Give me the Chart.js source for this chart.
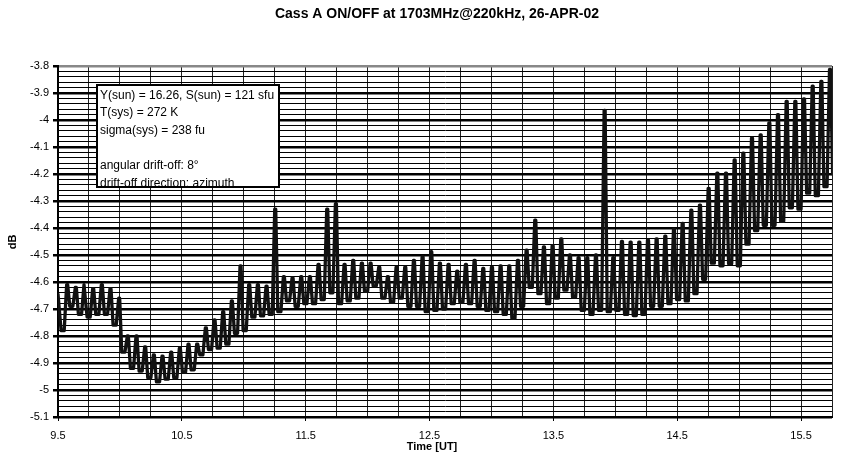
<!DOCTYPE html>
<html>
<head>
<meta charset="utf-8">
<script src="https://cdn.jsdelivr.net/npm/chart.js@4/dist/chart.umd.min.js"></script>
<style>
  html, body { margin: 0; padding: 0; background: #fff; }
  #wrap { width: 854px; height: 469px; }
</style>
</head>
<body>
<div id="wrap"><canvas id="cass_chart" width="854" height="469"></canvas></div>
<script>
// readings of the ON/OFF cycles, one high (ON) and one low (OFF) per cycle, in dB
const start_time = 9.5      // UT hours, first sample
const cycle_length = 0.07   // hours per ON/OFF cycle
// where inside a cycle the ON and OFF readings sit (hours after the cycle start)
const on_times = [0, 0.008]
const off_times = [0.025, 0.05]

const on_values = [
  -4.645, -4.61, -4.62, -4.61, -4.625, -4.61, -4.625, -4.66,
  -4.80, -4.80, -4.84, -4.87, -4.875, -4.86, -4.845, -4.83, -4.83,
  -4.77, -4.74, -4.71, -4.67, -4.54, -4.61, -4.61, -4.615, -4.33,
  -4.58, -4.585, -4.58, -4.58, -4.535, -4.33, -4.31, -4.535, -4.52,
  -4.53, -4.53, -4.545, -4.58, -4.545, -4.545, -4.52, -4.507, -4.488,
  -4.53, -4.535, -4.56, -4.535, -4.52, -4.55, -4.545, -4.54, -4.54,
  -4.52, -4.482, -4.371, -4.47, -4.465, -4.44, -4.50, -4.51, -4.51,
  -4.50, -3.964, -4.51, -4.45, -4.452, -4.452, -4.445, -4.44, -4.43,
  -4.405, -4.383, -4.334, -4.315, -4.253, -4.197, -4.197, -4.148, -4.123,
  -4.067, -4.055, -4.011, -3.98, -3.931, -3.931, -3.922, -3.875, -3.857, -3.813
]

const off_values = [
  -4.78, -4.69, -4.72, -4.73, -4.72, -4.72, -4.76, -4.86,
  -4.92, -4.93, -4.955, -4.97, -4.96, -4.955, -4.935, -4.925, -4.87,
  -4.85, -4.845, -4.83, -4.79, -4.78, -4.73, -4.725, -4.72, -4.71,
  -4.67, -4.69, -4.68, -4.68, -4.665, -4.64, -4.68, -4.67, -4.66,
  -4.635, -4.615, -4.66, -4.675, -4.66, -4.69, -4.69, -4.71, -4.705,
  -4.70, -4.68, -4.675, -4.68, -4.69, -4.705, -4.71, -4.72, -4.735,
  -4.69, -4.62, -4.643, -4.68, -4.66, -4.63, -4.656, -4.705, -4.72,
  -4.705, -4.71, -4.705, -4.72, -4.724, -4.72, -4.69, -4.69, -4.68,
  -4.665, -4.67, -4.643, -4.59, -4.53, -4.54, -4.532, -4.54, -4.46,
  -4.41, -4.39, -4.39, -4.375, -4.325, -4.33, -4.271, -4.28, -4.247, -4.20
]

// axis ranges and tick labels
const x_min = 9.5, x_max = 15.75
const y_min = -5.1, y_max = -3.8
const x_tick_labels = ['9.5', '10.5', '11.5', '12.5', '13.5', '14.5', '15.5']

const chart_title = 'Cass A ON/OFF at 1703MHz@220kHz, 26-APR-02'
const x_title = 'Time [UT]'
const y_title = 'dB'
const info_lines = [
  'Y(sun) = 16.26, S(sun) = 121 sfu',
  'T(sys) = 272 K',
  'sigma(sys) = 238 fu',
  '',
  'angular drift-off: 8\u00b0',
  'drift-off direction: azimuth'
]

const font_family = "'Liberation Sans', Arial, sans-serif"

// we put the ON and OFF readings of each cycle one after the other into a single trace
let trace = []
on_values.forEach((v, i) => {
  const t = start_time + i * cycle_length
  on_times.forEach((dt) => trace.push({ x: t + dt, y: v }))
  off_times.forEach((dt) => trace.push({ x: t + dt, y: off_values[i] }))
})

function is_tenth(v) {
  return Math.abs(v * 10 - Math.round(v * 10)) < 1e-6
}

function is_label_x(v) {
  return x_tick_labels.indexOf(String(Math.round(v * 100) / 100)) != -1
}

// plugin that writes the title, axis names and the info box
const decorations = {
  id: 'decorations',
  afterDraw(chart) {
    const ctx = chart.ctx
    ctx.save()
    ctx.fillStyle = '#000'
    ctx.textBaseline = 'middle'

    ctx.font = 'bold 14px ' + font_family
    ctx.textAlign = 'center'
    ctx.fillText(chart_title, 437, 14)

    ctx.font = 'bold 11px ' + font_family
    ctx.fillText(x_title, 432, 447)

    ctx.save()
    ctx.translate(13, 242)
    ctx.rotate(-Math.PI / 2)
    ctx.fillText(y_title, 0, 0)
    ctx.restore()

    // info box
    ctx.fillStyle = '#fff'
    ctx.fillRect(97, 85, 182, 102)
    ctx.fillStyle = '#000'
    ctx.font = '12px ' + font_family
    ctx.textAlign = 'left'
    info_lines.forEach((line, i) => {
      ctx.fillText(line, 100, 95.5 + i * 17.6)
    })
    ctx.strokeStyle = '#000'
    ctx.lineWidth = 2
    ctx.strokeRect(97, 85, 182, 102)
    ctx.restore()
  }
}

const chart_config = {
  type: 'line',
  data: {
    datasets: [{
      data: trace,
      borderColor: '#111',
      borderWidth: 3.3,
      borderJoinStyle: 'round',
      borderCapStyle: 'round',
      pointRadius: 0,
      tension: 0,
      fill: false
    }]
  },
  options: {
    responsive: false,
    animation: false,
    layout: { padding: { top: 66, right: 22, left: 0, bottom: 0 } },
    plugins: {
      legend: { display: false },
      title: { display: false },
      tooltip: { enabled: false }
    },
    scales: {
      x: {
        type: 'linear',
        min: x_min,
        max: x_max,
        afterFit: (s) => { s.height = 52 },
        ticks: {
          stepSize: 0.25,
          autoSkip: false,
          maxRotation: 0,
          padding: 8,
          color: '#000',
          font: { family: font_family, size: 11 },
          callback: (v) => is_label_x(v) ? String(Math.round(v * 100) / 100) : ''
        },
        grid: {
          color: '#222',
          lineWidth: 1,
          tickLength: 4,
          tickColor: (c) => is_label_x(c.tick.value) ? '#000' : 'rgba(0,0,0,0)'
        },
        border: { color: '#000', width: 2 }
      },
      y: {
        type: 'linear',
        min: y_min,
        max: y_max,
        afterFit: (s) => { s.width = 58 },
        ticks: {
          stepSize: 0.02,
          autoSkip: false,
          padding: 4,
          color: '#000',
          font: { family: font_family, size: 11 },
          callback: (v) => is_tenth(v) ? String(Math.round(v * 10) / 10) : ''
        },
        grid: {
          color: (c) => Math.abs(c.tick.value - y_max) < 1e-6 ? '#888' : '#000',
          lineWidth: (c) => is_tenth(c.tick.value) ? 2.5 : 1,
          tickLength: 5,
          tickColor: (c) => is_tenth(c.tick.value) ? '#000' : 'rgba(0,0,0,0)'
        },
        border: { color: '#000', width: 2 }
      }
    }
  },
  plugins: [decorations]
}

const cass_chart = new Chart(document.getElementById('cass_chart'), chart_config)
</script>
</body>
</html>
